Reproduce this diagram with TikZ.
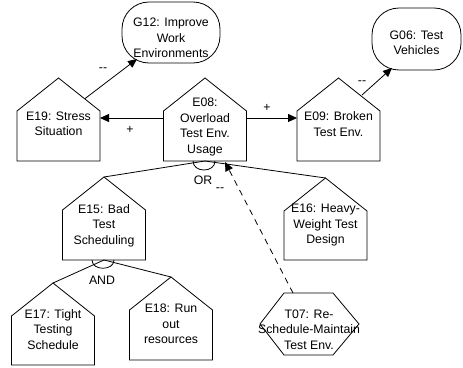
\documentclass[tikz,border=0pt]{standalone}
\usepackage{fontspec}
\setmainfont{Liberation Sans}
\usetikzlibrary{arrows.meta,calc}
\newcommand{\househ}[6]{%
  \draw[outl] ({#2-41.5},#4) -- ({#2-41.5},{#3+33}) -- (#2,#3) -- ({#2+41.5},{#3+33}) -- ({#2+41.5},#4) -- cycle;
  \node[txt] (#1) at (#2,#5) {#6};
}
\begin{document}
\begin{tikzpicture}[x=1pt,y=-1pt,
  txt/.style={align=center, inner sep=0pt, font=\fontsize{12.3}{15.5}\selectfont},
  lbl/.style={inner sep=0pt, font=\fontsize{12.3}{14}\selectfont},
  outl/.style={draw=black, line width=0.8pt},
  goalbox/.style={draw=black, line width=0.8pt, rounded corners=27pt, inner sep=0pt},
  link/.style={line width=0.8pt},
  arr/.style={link, -{Triangle[length=9pt,width=8pt]}},
  dashlink/.style={link, dash pattern=on 6pt off 5pt}]
\useasboundingbox (0,0) rectangle (463,367);

% goals
\node[goalbox, minimum width=98pt, minimum height=61pt] (g12) at (171,32.5) {};
\node[txt] (g12t) at (171,38) {G12: Improve\\Work\\Environments};
\node[goalbox, minimum width=89pt, minimum height=62pt] (g06) at (416.5,39) {};
\node[txt] (g06t) at (416.5,43) {G06: Test\\Vehicles};

% houses
\househ{e08}{205}{78}{161}{127}{E08:\\Overload\\Test Env.\\Usage}
\househ{e19}{58.5}{78}{161}{124}{E19: Stress\\Situation}
\househ{e09}{338.5}{78}{161}{124}{E09: Broken\\Test Env.}
\househ{e15}{104}{177}{260}{225.5}{E15: Bad\\Test\\Scheduling}
\househ{e16}{325.5}{178}{260}{225}{E16: Heavy-\\Weight Test\\Design}
\househ{e17}{53}{283}{365}{329.5}{E17: Tight\\Testing\\Schedule}
\househ{e18}{171}{277}{360}{324}{E18: Run\\out\\resources}

% task hexagon
\draw[outl] (284,293) -- (333,293) -- (359,324) -- (333,355) -- (284,355) -- (260,324) -- cycle;
\node[txt] (t07) at (309,329.5) {T07: Re-\\Schedule-Maintain\\Test Env.};

% connection points
\coordinate (e19roof) at (85,98.6);
\coordinate (g12in) at (137,59);
\coordinate (e08w) at (163.5,118);
\coordinate (e19e) at (100,118);
\coordinate (e08e) at (246.5,118);
\coordinate (e09w) at (297,118);
\coordinate (e09roof) at (362,95);
\coordinate (g06in) at (392,68);
\coordinate (e08s) at (205,161);
\coordinate (e15top) at (104,177);
\coordinate (e16top) at (325.5,178);
\coordinate (e08tip) at (225,162);
\coordinate (t07top) at (293,293);
\coordinate (e15s) at (104,260);
\coordinate (e17top) at (53,283);
\coordinate (e18top) at (171,277);

% connectors
\draw[arr] (e19roof) -- (g12in);
\draw[arr] (e08w) -- (e19e);
\draw[arr] (e08e) -- (e09w);
\draw[arr] (e09roof) -- (g06in);
\draw[link] (e15top) -- (e08s);
\draw[link] (e16top) -- (e08s);
\draw[dashlink, -{Triangle[length=9pt,width=8pt]}] (t07top) -- (e08tip);
\draw[link] (e17top) -- (e15s);
\draw[link] (e18top) -- (e15s);

% OR / AND arcs
\draw[link] (193,161) .. controls (193,173) and (215,173) .. (215,161);
\draw[link] (92,260) .. controls (92,271) and (114,271) .. (114,260);

% labels
\node[lbl] (l1) at (103,70) {-{}-};
\node[lbl] (l2) at (130,130) {+};
\node[lbl] (l3) at (267,108) {+};
\node[lbl] (l4) at (362,83) {-{}-};
\node[lbl] (l5) at (203,180) {OR};
\node[lbl] (l6) at (220,190) {-{}-};
\node[lbl] (l7) at (102,280) {AND};
\end{tikzpicture}
\end{document}
